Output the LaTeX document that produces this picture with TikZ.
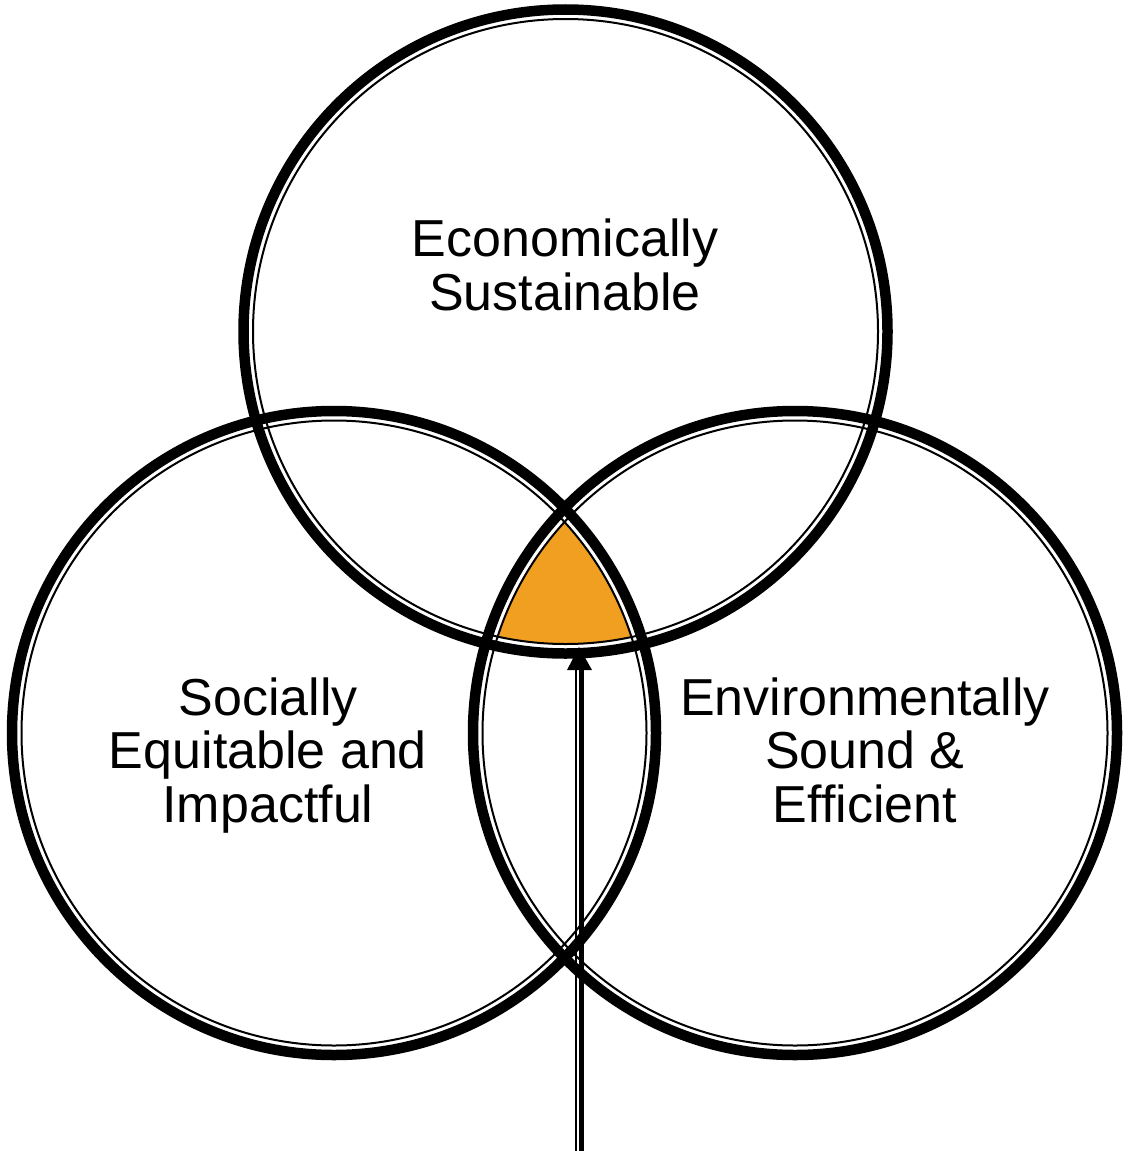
\documentclass[tikz,border=0pt]{standalone}
\usepackage{fontspec}
\setmainfont{Liberation Sans}
\definecolor{orangefill}{RGB}{241,159,33}
\begin{document}
\begin{tikzpicture}[x=1pt,y=-1pt,
  band/.style={line width=10.5pt},
  hair/.style={line width=2pt},
  lbl/.style={font=\fontsize{52}{53.5}\selectfont, align=center, inner sep=0pt, anchor=base}]
\useasboundingbox (0,0) rectangle (1130,1151);
\coordinate (cT) at (565.5,331.5);
\coordinate (cL) at (334,733);
\coordinate (cR) at (795,733);
\begin{scope}
  \clip (cT) circle[radius=312pt];
  \clip (cL) circle[radius=312pt];
  \fill[orangefill] (cR) circle[radius=312pt];
\end{scope}
\foreach \c in {cT,cL,cR}{
  \draw[band] (\c) circle[radius=322pt];
  \draw[hair] (\c) circle[radius=312.5pt];
}
\coordinate (afoot) at (579,1151);
\coordinate (atip) at (579,647);
\coordinate (abase) at (579,670);
\draw[line width=4.5pt] ([xshift=2.5pt]afoot) -- ([xshift=2.5pt]abase);
\draw[line width=2pt] ([xshift=-3.5pt]afoot) -- ([xshift=-3.5pt]abase);
\fill (atip) -- ([xshift=-12pt]abase) -- ([xshift=13pt]abase) -- cycle;
\node[lbl] (econ) at (565,310) {Economically\\Sustainable};
\node[lbl] (soc) at (268,822) {Socially\\Equitable and\\Impactful};
\node[lbl] (env) at (865,822) {Environmentally\\Sound \&\\Efficient};
\end{tikzpicture}
\end{document}
